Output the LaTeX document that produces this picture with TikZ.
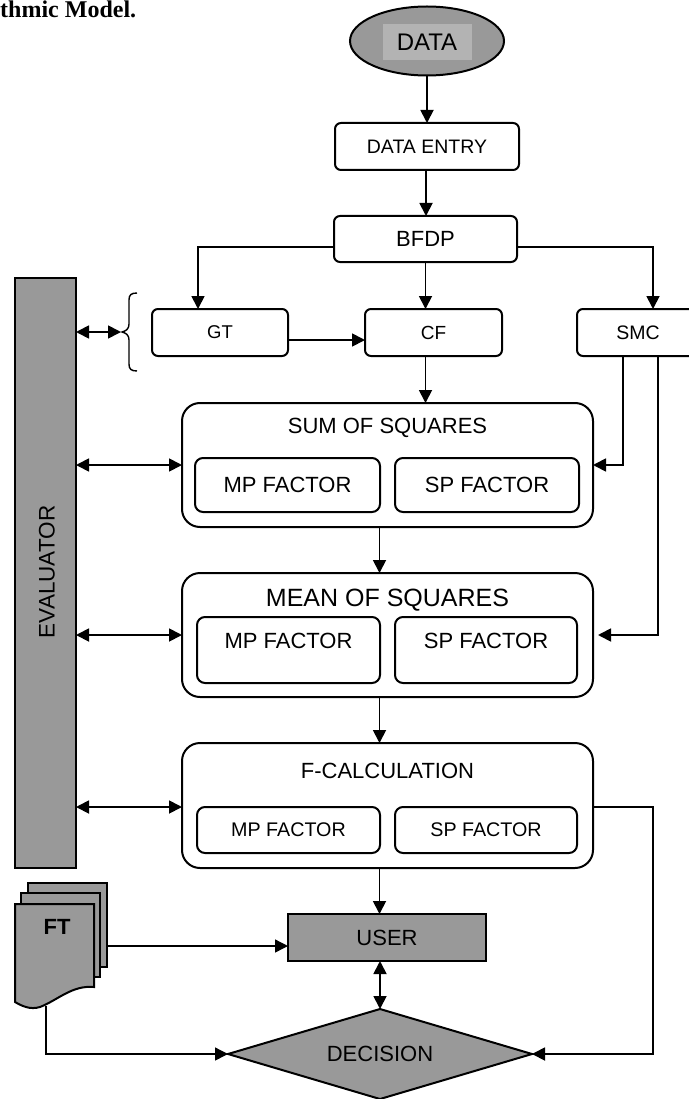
\documentclass[tikz,border=0pt]{standalone}
\usepackage{fontspec}
\setmainfont{Liberation Sans}
\newfontfamily\titleserif{Liberation Serif}
\usetikzlibrary{arrows.meta,shapes.geometric}
\definecolor{boxgray}{HTML}{999999}
\definecolor{lblgray}{HTML}{B3B3B3}
\newcommand{\fs}[1]{\fontsize{#1}{#1}\selectfont}
\begin{document}
\begin{tikzpicture}[x=1pt,y=-1pt,
  box/.style={draw, line width=2pt, rounded corners=6pt, inner sep=0pt, outer sep=0pt},
  bigbox/.style={draw, line width=2pt, rounded corners=18pt, inner sep=0pt, outer sep=0pt},
  inbox/.style={draw, line width=2pt, rounded corners=8pt, inner sep=0pt, outer sep=0pt},
  gbox/.style={draw, line width=2pt, fill=boxgray, inner sep=0pt, outer sep=0pt},
  txt/.style={inner sep=0pt},
  arr/.style={line width=1.8pt, -{Triangle[length=13pt,width=13pt]}},
  darr/.style={line width=1.8pt, {Triangle[length=13pt,width=13pt]}-{Triangle[length=13pt,width=13pt]}},
  thinarr/.style={line width=1.4pt, -{Triangle[length=13pt,width=13pt]}}
]
\useasboundingbox (0,0) rectangle (688,1099);
\fill[white] (0,0) rectangle (688,1099);

% title fragment
\node[txt, anchor=base west, font=\titleserif\bfseries\fs{24}] (title) at (0,18) {thmic Model.};

% DATA
\node[ellipse, draw, line width=2pt, fill=boxgray, minimum width=154pt, minimum height=69pt, inner sep=0pt, outer sep=0pt] (data) at (427,41) {};
\node[fill=lblgray, minimum width=89pt, minimum height=36pt, inner sep=0pt, font=\fs{24}] (datalbl) at (427,42) {DATA};

\node[box, minimum width=184pt, minimum height=47pt, font=\fs{19.5}] (dataentry) at (427,146.5) {DATA ENTRY};
\node[box, minimum width=183pt, minimum height=46pt, font=\fs{22}] (bfdp) at (425.5,239) {BFDP};
\node[box, minimum width=136pt, minimum height=47pt, font=\fs{18.5}] (gt) at (220,332.5) {GT};
\node[box, minimum width=137pt, minimum height=47pt, font=\fs{19}] (cf) at (433.5,332.5) {CF};
\node[box, minimum width=122pt, minimum height=47pt, font=\fs{19.5}] (smc) at (638,332.5) {SMC};

% Sum of squares
\node[bigbox, minimum width=411pt, minimum height=124pt] (sum) at (387.5,465) {};
\node[txt, font=\fs{22}] (sumtitle) at (387.5,428) {SUM OF SQUARES};
\node[inbox, minimum width=185pt, minimum height=54pt, font=\fs{22}] (summp) at (287.5,485) {MP FACTOR};
\node[inbox, minimum width=184pt, minimum height=54pt, font=\fs{22}] (sumsp) at (487,485) {SP FACTOR};

% Mean of squares
\node[bigbox, minimum width=411pt, minimum height=124pt] (mean) at (387.5,635) {};
\node[txt, font=\fs{25}] (meantitle) at (387.5,600) {MEAN OF SQUARES};
\node[inbox, minimum width=183pt, minimum height=66pt] (meanmp) at (288.5,650) {};
\node[inbox, minimum width=182pt, minimum height=66pt] (meansp) at (486,650) {};
\node[txt, font=\fs{22}] (meanmpt) at (288.5,641) {MP FACTOR};
\node[txt, font=\fs{22}] (meanspt) at (486,641) {SP FACTOR};

% F-calculation
\node[bigbox, minimum width=411pt, minimum height=125pt] (fcalc) at (387.5,805.5) {};
\node[txt, font=\fs{22}] (fctitle) at (387.5,771) {F-CALCULATION};
\node[inbox, minimum width=183pt, minimum height=46pt, font=\fs{19.7}] (fcmp) at (288.5,830) {MP FACTOR};
\node[inbox, minimum width=182pt, minimum height=46pt, font=\fs{19.7}] (fcsp) at (486,830) {SP FACTOR};

% User and decision
\node[gbox, minimum width=198pt, minimum height=47pt, font=\fs{22}] (user) at (387,937.5) {USER};
\node[diamond, draw, line width=2pt, fill=boxgray, minimum width=304pt, minimum height=90pt, aspect=3.38, inner sep=0pt, outer sep=0pt, font=\fs{22}] (decision) at (380,1054) {DECISION};

% Evaluator
\node[gbox, minimum width=61pt, minimum height=590pt] (evaluator) at (45.5,573) {};
\node[txt, rotate=90, font=\fs{22.5}] (evaltxt) at (47,572) {EVALUATOR};

% Brace
\coordinate (bracetip) at (122,332);
\draw[line width=1.4pt] (137,293) .. controls (131,293) and (129,295) .. (129,300) -- (129,324)
  .. controls (129,329) and (126,331) .. (bracetip)
  .. controls (126,333) and (129,335) .. (129,340) -- (129,364)
  .. controls (129,369) and (131,371) .. (137,371);

% FT multi-document
\draw[line width=2pt, fill=boxgray] (28,883) rectangle (107,967);
\draw[line width=2pt, fill=boxgray] (21,893) rectangle (100,977);
\draw[line width=2pt, fill=boxgray] (15,904) -- (94,904) -- (94,987)
  .. controls (72,985) and (58,1000) .. (40,1007)
  .. controls (30,1010) and (22,1006) .. (15,1002) -- cycle;
\node[txt, font=\bfseries\fs{22}] (ft) at (57,927) {FT};
\coordinate (ftR) at (107,946);
\coordinate (ftB) at (46,1006);
\coordinate (rc) at (653,1054);

% connectors
\draw[arr] (data.south) -- (data.south |- dataentry.north);
\draw[arr] ([xshift=-1]dataentry.south) -- ([xshift=-1]dataentry.south |- bfdp.north);
\draw[arr] ([yshift=-8]bfdp.west) -| ([xshift=-22]gt.north);
\draw[arr] (bfdp.south) -- (bfdp.south |- cf.north);
\draw[arr] ([yshift=-8]bfdp.east) -| ([xshift=15]smc.north);
\draw[arr] ([yshift=-7.5]gt.east) -- ([yshift=-7.5]cf.west);
\draw[arr] (bfdp.south |- cf.south) -- (bfdp.south |- sum.north);
\draw[arr] ([xshift=-15]smc.south) |- (sum.east);
\draw[arr] ([xshift=20]smc.south) |- ([xshift=5]mean.east);
\draw[arr] ([xshift=-8]sum.south) -- ([xshift=-8]mean.north);
\draw[arr] ([xshift=-8]mean.south) -- ([xshift=-8]fcalc.north);
\draw[arr] ([xshift=-8]fcalc.south) -- ([xshift=-8]fcalc.south |- user.north);
\draw[darr] (decision.north |- user.south) -- (decision.north);
\draw[arr] (fcalc.east |- fcmp.north) -- (rc |- fcmp.north) -- (rc) -- (decision.east);
\draw[thinarr] (ftR) -- (ftR -| user.west);
\draw[thinarr] (ftB) |- (decision.west);
\draw[darr] (evaluator.east |- bracetip) -- ([xshift=-1]bracetip);
\draw[darr] (evaluator.east |- sum.west) -- (sum.west);
\draw[darr] (evaluator.east |- mean.west) -- (mean.west);
\draw[darr] (evaluator.east |- fcmp.north) -- (fcalc.west |- fcmp.north);
\end{tikzpicture}
\end{document}
